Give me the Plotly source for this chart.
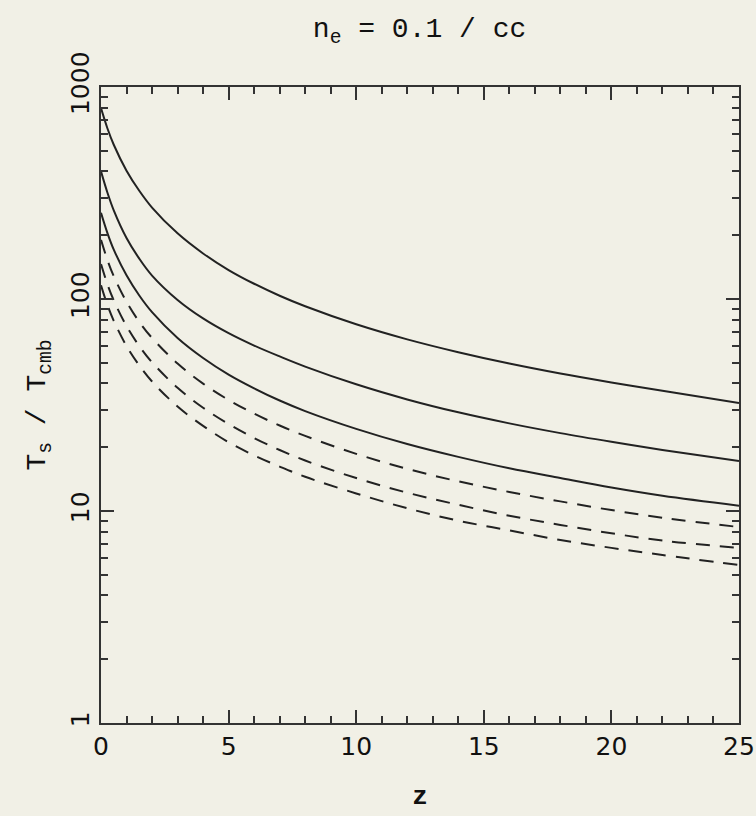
import plotly.graph_objects as go

z = [0, 0.25, 0.5, 1, 1.5, 2, 3, 4, 5, 6, 7, 8, 10, 12, 14, 16, 18, 20, 22, 25]

solid_1 = [795, 639, 534, 403, 324, 270, 204, 164, 137, 118, 103.6, 92.4, 76, 64.5, 56.1, 49.6, 44.5, 40.4, 36.9, 32.3]
solid_2 = [400, 318, 262, 194, 155, 129, 99, 81, 69, 60.3, 53.6, 48, 39.6, 33.6, 29.2, 25.9, 23.3, 21.2, 19.4, 17.2]
solid_3 = [255, 205, 171, 129.4, 103.9, 86.7, 65.5, 52.7, 44, 37.9, 33.2, 29.6, 24.4, 20.7, 18, 15.9, 14.3, 12.9, 11.8, 10.6]
dashed_1 = [190, 153, 128, 97, 78, 65.5, 49.6, 39.9, 33.4, 28.8, 25.3, 22.6, 18.6, 15.8, 13.8, 12.3, 11.1, 10.1, 9.3, 8.4]
dashed_2 = [146, 117.5, 98.5, 74.5, 60, 50.3, 38.1, 30.7, 25.7, 22.1, 19.4, 17.3, 14.3, 12.2, 10.7, 9.5, 8.6, 7.85, 7.25, 6.7]
dashed_3 = [116, 93.8, 78.9, 60, 48.6, 40.8, 31.1, 25.2, 21.1, 18.3, 16.2, 14.5, 12.1, 10.3, 9.0, 8.1, 7.3, 6.7, 6.2, 5.56]

x_ticks = [0, 5, 10, 15, 20, 25]
y_ticks = [1, 10, 100, 1000]

BG = "#f1f0e6"
INK = "#222222"

fig = go.Figure()
for ys in (solid_1, solid_2, solid_3):
    fig.add_trace(go.Scatter(x=z, y=ys, mode="lines", line=dict(color=INK, width=2, shape="spline", smoothing=1),
                             showlegend=False, hoverinfo="skip"))
for ys in (dashed_1, dashed_2, dashed_3):
    fig.add_trace(go.Scatter(x=z, y=ys, mode="lines",
                             line=dict(color=INK, width=2, dash="14px,10px", shape="spline", smoothing=1),
                             showlegend=False, hoverinfo="skip"))

axis_common = dict(
    showgrid=False, zeroline=False, showline=True, linecolor="#333333", linewidth=2,
    mirror="allticks", ticks="inside", ticklen=13, tickwidth=2, tickcolor="#333333",
    tickfont=dict(family="DejaVu Sans", size=25, color="#111111"), automargin=False,
)

fig.update_xaxes(
    range=[0, 25], tickvals=x_ticks, ticktext=[str(v) for v in x_ticks],
    minor=dict(dtick=1, ticks="inside", ticklen=7, tickwidth=2, tickcolor="#333333", showgrid=False),
    title=dict(text="<b>z</b>", font=dict(family="Liberation Mono", size=26, color="#111111"), standoff=26),
    **axis_common,
)
fig.update_yaxes(
    type="log", range=[0, 3], tickvals=y_ticks, ticktext=[str(v) for v in y_ticks], tickangle=-90,
    minor=dict(dtick="D1", ticks="inside", ticklen=7, tickwidth=2, tickcolor="#333333", showgrid=False),
    title=dict(text="T<sub>s</sub> / T<sub>cmb</sub>", font=dict(family="Liberation Mono", size=28, color="#111111"),
               standoff=12),
    **axis_common,
)

fig.update_layout(
    width=756, height=816,
    margin=dict(l=101, r=17, t=87, b=93, autoexpand=False),
    paper_bgcolor=BG, plot_bgcolor=BG,
    title=dict(text="n<sub>e</sub> = 0.1 / cc", x=0.555, xanchor="center", y=0.967, yanchor="middle",
               font=dict(family="Liberation Mono", size=28, color="#111111")),
)

fig.write_html("out.html", config={"displayModeBar": False},
               post_script="document.body.style.margin='0px';document.body.style.background='#f1f0e6';")
